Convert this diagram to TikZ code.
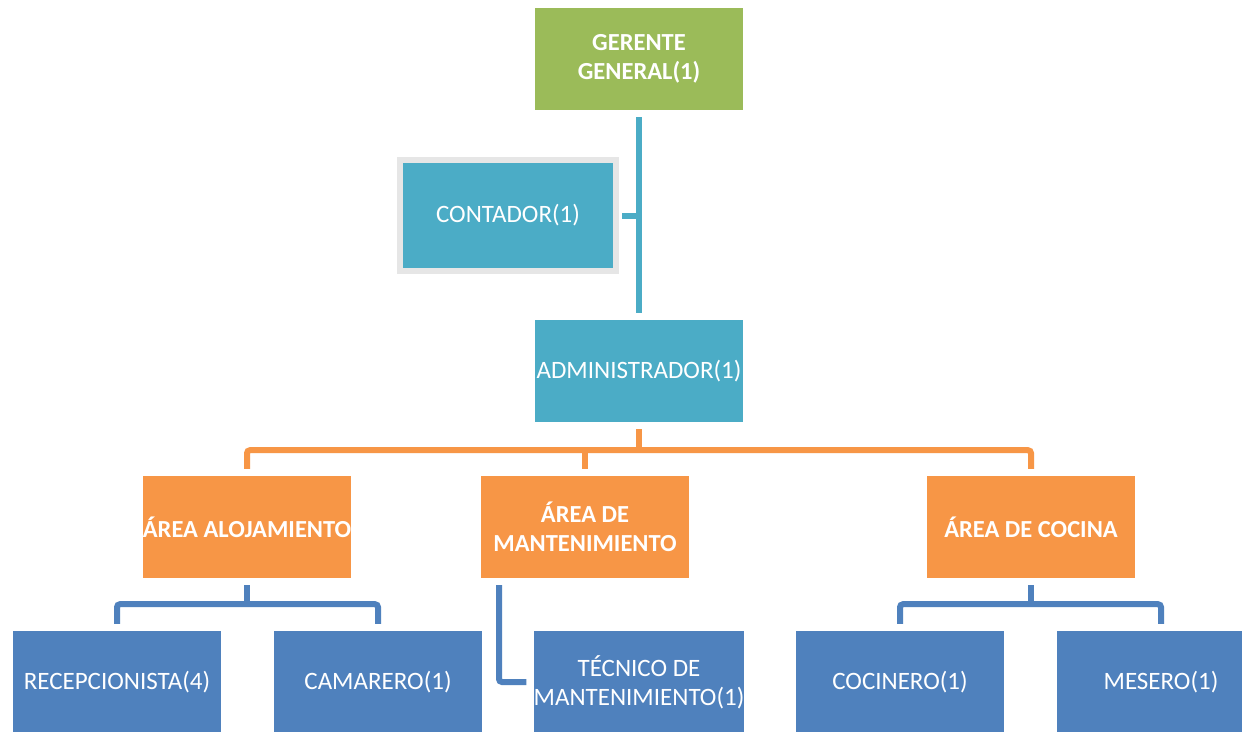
\documentclass[tikz,border=0pt]{standalone}
\usepackage{fontspec}
\setmainfont{Carlito}
\usetikzlibrary{calc}
\definecolor{ggreen}{HTML}{9BBB59}
\definecolor{gteal}{HTML}{4BACC6}
\definecolor{gorange}{HTML}{F79646}
\definecolor{gblue}{HTML}{4F81BD}
\definecolor{gborder}{HTML}{E6E6E6}
\begin{document}
\begin{tikzpicture}[x=1pt,y=-1pt,
  box/.style={rectangle, minimum width=208pt, minimum height=102pt, inner sep=0pt,
    text=white, align=center, font=\fontsize{25}{29}\selectfont},
  bbox/.style={box, font=\fontsize{24.5}{29}\selectfont\bfseries},
  conn/.style={line width=6pt, rounded corners=3pt},
]
\useasboundingbox (0,0) rectangle (1242,731);
\clip (0,0) rectangle (1242,731);
\fill[white] (0,0) rectangle (1242,731);

\node[bbox, fill=ggreen] (g) at (639,59) {GERENTE\\GENERAL(1)};
\node[box, fill=gteal, draw=gborder, line width=6pt, minimum width=216pt, minimum height=111pt] (c) at (508,215.5) {CONTADOR(1)};
\node[box, fill=gteal] (a) at (639,371) {ADMINISTRADOR(1)};
\node[bbox, fill=gorange] (l) at (247,527) {ÁREA ALOJAMIENTO};
\node[bbox, fill=gorange] (m) at (585,527) {ÁREA DE\\MANTENIMIENTO};
\node[bbox, fill=gorange] (k) at (1031,527) {ÁREA DE COCINA};
\node[box, fill=gblue] (r) at (117,682) {RECEPCIONISTA(4)};
\node[box, fill=gblue] (ca) at (378,682) {CAMARERO(1)};
\node[box, fill=gblue] (t) at (639,682) {TÉCNICO DE\\MANTENIMIENTO(1)};
\node[box, fill=gblue] (co) at (900,682) {COCINERO(1)};
\node[box, fill=gblue] (me) at (1161,682) {MESERO(1)};

% teal trunk
\draw[conn, gteal] ($(g.south)+(0,7)$) -- ($(a.north)+(0,-7)$);
\draw[conn, gteal] ($(c.east)+(3,0)$) -- (c.east -| g.south);

% orange
\coordinate (ho) at ($(a.south)+(0,28)$);
\draw[conn, gorange] ($(a.south)+(0,7)$) -- (ho);
\draw[conn, gorange] ($(l.north)+(0,-7)$) |- (ho) -| ($(k.north)+(0,-7)$);
\draw[conn, gorange] ($(m.north)+(0,-7)$) -- (m.north |- ho);

% blue alojamiento
\coordinate (hl) at ($(l.south)+(0,26)$);
\draw[conn, gblue] ($(l.south)+(0,7)$) -- (hl);
\draw[conn, gblue] ($(r.north)+(0,-7)$) |- (hl) -| ($(ca.north)+(0,-7)$);

% blue mantenimiento
\draw[conn, gblue] ($(m.south)+(-86,7)$) |- ($(t.west)+(-7,0)$);

% blue cocina
\coordinate (hk) at ($(k.south)+(0,26)$);
\draw[conn, gblue] ($(k.south)+(0,7)$) -- (hk);
\draw[conn, gblue] ($(co.north)+(0,-7)$) |- (hk) -| ($(me.north)+(0,-7)$);
\end{tikzpicture}
\end{document}
